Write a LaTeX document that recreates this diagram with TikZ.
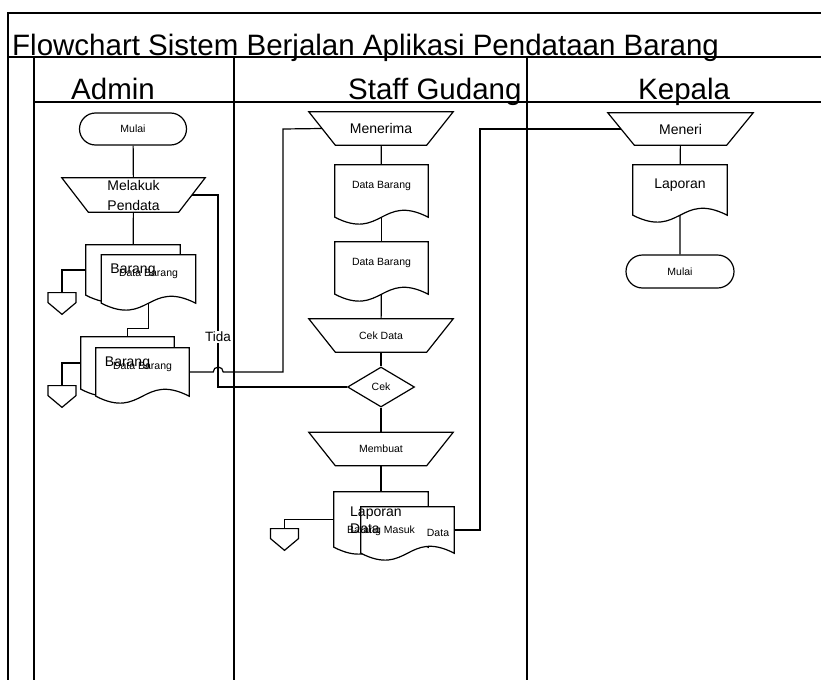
\documentclass[tikz,border=0pt]{standalone}
\usepackage{fontspec}
\setmainfont{Liberation Sans}
\usetikzlibrary{positioning,calc,arrows,shapes}

\pgfdeclarelayer{docs}
\pgfsetlayers{docs,main}

\tikzset{
  lane/.style={line width=1.3pt},
  conn/.style={line width=1.2pt},
  big/.style={font=\fontsize{14}{20}\selectfont},
  small/.style={font=\fontsize{10.5}{12}\selectfont},
  header/.style={anchor=base west,inner sep=0pt,font=\fontsize{29.5}{33}\selectfont},
  terminal/.style={rounded rectangle,draw=black,line width=1.2pt,fill=white,minimum width=107pt,minimum height=32pt,inner sep=0pt,small},
  manualop/.style={rectangle,minimum width=144pt,minimum height=33pt,inner sep=0pt,align=center},
  docbox/.style={rectangle,minimum width=94pt,minimum height=50pt,inner sep=0pt,text depth=12pt,align=center},
  docline/.style={draw=black,line width=1.2pt,fill=white},
  decision/.style={diamond,draw=black,line width=1.2pt,fill=white,minimum width=67pt,minimum height=40pt,inner sep=0pt,small},
  offpage/.style={signal,signal to=south,signal from=nowhere,signal pointer angle=100,draw=black,line width=1.2pt,fill=white,minimum width=28pt,minimum height=10pt,inner sep=0pt},
}

% outline of a document symbol, drawn behind the texts
\newcommand{\wavedoc}[1]{%
  \begin{pgfonlayer}{docs}
    \draw[docline] (#1.north west) -- (#1.north east) -- (#1.south east)
      .. controls ($(#1.south)+(0,-24)$) and ($(#1.south)+(0,24)$) .. (#1.south west) -- cycle;
  \end{pgfonlayer}}
% outline of a manual operation (wide top, narrow bottom)
\newcommand{\manualshape}[1]{%
  \begin{pgfonlayer}{docs}
    \draw[docline] (#1.north west) -- (#1.north east) -- ($(#1.south east)+(-26.5,0)$)
      -- ($(#1.south west)+(26.5,0)$) -- cycle;
  \end{pgfonlayer}}

\begin{document}
\begin{tikzpicture}[x=1pt,y=-1pt]
    \useasboundingbox (0,0) rectangle (821,680);

    % swimlanes
    \draw[lane] (821,13) -- (8,13) -- (8,680);
    \draw[lane] (8,57) -- (821,57);
    \draw[lane] (34,57) -- (34,680);
    \draw[lane] (34,102) -- (821,102);
    \draw[lane] (234,57) -- (234,680);
    \draw[lane] (527,57) -- (527,680);

    \node[header] (title) at (12,55) {Flowchart Sistem Berjalan Aplikasi Pendataan Barang};
    \node[header] (hd-admin) at (71,99) {Admin};
    \node[header] (hd-staff) at (348,99) {Staff Gudang};
    \node[header] (hd-kepala) at (638,99) {Kepala};

    % Admin
    \node[terminal] (mulai1) at (133,129) {Mulai};
    \node[manualop,big,minimum width=143pt,minimum height=34pt] (melakuk) at (133.5,195) {Melakuk\\Pendata};
    \manualshape{melakuk}
    \node[docbox,big,text depth=3pt] (a-doc1b) at (133,270) {Barang};
    \node[docbox,small,minimum height=48pt] (a-doc1f) at (148.5,279) {Data Barang};
    \wavedoc{a-doc1b}
    \wavedoc{a-doc1f}
    \node[docbox,big,minimum width=93pt,minimum height=52pt,text depth=3pt] (a-doc2b) at (127.5,363) {Barang};
    \node[docbox,small,minimum width=93pt,minimum height=48pt] (a-doc2f) at (142.5,372) {Data Barang};
    \wavedoc{a-doc2b}
    \wavedoc{a-doc2f}
    \node[offpage,anchor=north] (off1) at (62,292) {};
    \node[offpage,anchor=north] (off2) at (62,385) {};

    \draw[conn] (mulai1) -- (melakuk);
    \draw[conn] (melakuk) -- (a-doc1b);
    \draw[conn] (a-doc1b.west) -| (off1.north);
    \draw[conn] (a-doc1f.south) -- ++(0,25) -| (a-doc2b.north);
    \draw[conn] (a-doc2b.west) -| (off2.north);

    % Staff Gudang
    \node[manualop,big] (menerima) at (381,128.5) {Menerima};
    \manualshape{menerima}
    \node[docbox,small,minimum width=93pt,minimum height=52pt] (s-doc1) at (381.5,191) {Data Barang};
    \node[docbox,small,minimum width=93pt,minimum height=52pt] (s-doc2) at (381.5,268) {Data Barang};
    \wavedoc{s-doc1}
    \wavedoc{s-doc2}
    \node[manualop,small] (cekdata) at (381,335.5) {Cek Data};
    \manualshape{cekdata}
    \node[decision] (cek) at (381,387) {Cek};
    \node[manualop,small] (membuat) at (381,449) {Membuat};
    \manualshape{membuat}
    \node[docbox,minimum height=55pt] (s-doc3b) at (381,519.5) {};
    \node[docbox,minimum width=93pt,minimum height=46pt] (s-doc3f) at (407.5,530) {};
    \wavedoc{s-doc3b}
    \wavedoc{s-doc3f}
    \node[small] (lap-masuk) at (381,531) {Barang Masuk};
    \node[small] (lap-data) at (438,533) {Data};
    \node[anchor=west,align=left,inner sep=0pt,font=\fontsize{14}{17}\selectfont] (lap-judul) at (350,520) {Laporan\\Data};
    \node[offpage,anchor=north] (off3) at (284.5,528) {};

    \draw[conn] (menerima) -- (s-doc1);
    \draw[conn] (s-doc1) -- (s-doc2);
    \draw[conn] (s-doc2) -- (cekdata);
    \draw[conn] (cekdata) -- (cek);
    \draw[conn] (cek) -- (membuat);
    \draw[conn] (membuat) -- (s-doc3b);
    \draw[conn] (s-doc3b.west) -| (off3.north);

    % Kepala
    \node[manualop,big,minimum width=145pt,minimum height=32pt] (meneri) at (680.5,129) {Meneri};
    \manualshape{meneri}
    \node[docbox,big] (k-doc) at (680,190) {Laporan};
    \wavedoc{k-doc}
    \node[terminal,minimum width=108pt,minimum height=33pt] (mulai2) at (680,271.5) {Mulai};

    \draw[conn] (meneri) -- (k-doc);
    \draw[conn] (k-doc) -- (mulai2);

    % lines between the lanes
    \coordinate (tida) at (218,195);
    \coordinate (elbow1) at (283,129);
    \coordinate (elbow2) at (480,129);
    \draw[conn] ($(melakuk.east)+(-13,0)$) -- (tida) |- (cek.west)
        node[pos=0.37,fill=white,inner sep=1pt,font=\fontsize{13.5}{15}\selectfont] (lbl-tida) {Tida};
    \draw[conn] (a-doc2f.east) -- ++(24,0) arc[start angle=180,end angle=360,radius=5] -| (elbow1)
        -- ($(menerima.west)+(13,0)$);
    \draw[conn] (s-doc3f.east) -| (elbow2) -- ($(meneri.west)+(13.5,0)$);
\end{tikzpicture}
\end{document}
